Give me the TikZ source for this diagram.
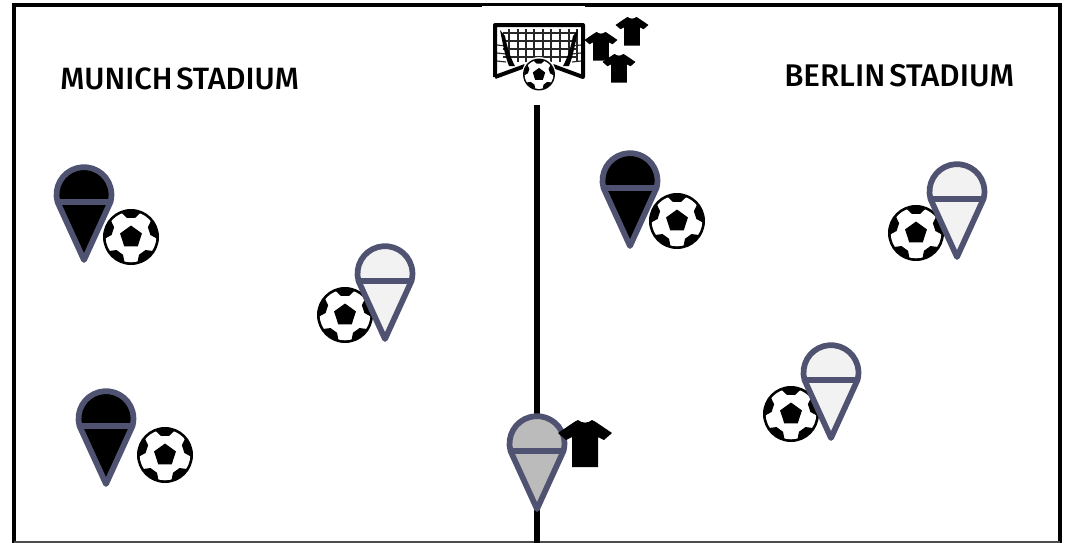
\documentclass[tikz,border=0pt]{standalone}
\usepackage{fontspec}
\setmainfont[WordSpace=0.5]{Fira Sans Medium}
\definecolor{pinline}{HTML}{4F5270}
\definecolor{pinlight}{HTML}{F2F2F2}
\definecolor{pingray}{HTML}{BBBBBB}
\newcommand\pinat[3]{% x, top y of outline, fill
  \begin{scope}[shift={(#1,#2)}]
    \draw[pinstroke,fill=#3] (-26.5,37) arc[start angle=164.5,end angle=375.5,radius=27.5] -- (0,95) -- cycle;
    \draw[pinstroke] (-26.5,37) -- (26.5,37);
  \end{scope}}
\newcommand\ballat[3]{% x, y, scale (1 = radius 28)
  \begin{scope}[shift={(#1,#2)},scale=#3]
    \fill[black] (0,0) circle[radius=28];
    \fill[white] (0,0) circle[radius=25.3];
    \begin{scope}
      \clip (0,0) circle[radius=26];
      \foreach \a in {-90,-18,54,126,198}{
        \fill[black] (\a-12:19.5) -- (\a+12:19.5) -- (\a+25:30) -- (\a-25:30) -- cycle;
      }
    \end{scope}
    \fill[black] (-90:11.5) -- (-18:11.5) -- (54:11.5) -- (126:11.5) -- (198:11.5) -- cycle;
  \end{scope}}
\newcommand\shirtat[3]{% centre x, top y, scale
  \begin{scope}[shift={(#1,#2)},scale=#3]
    \fill[black] (-27,13) -- (-10,1.5) -- (-7,0) .. controls (-3,3.5) and (3,3.5) .. (7,0) -- (10,1.5) -- (27,13) -- (19,20) -- (13,17) -- (13,47) -- (-13,47) -- (-13,17) -- (-19,20) -- cycle;
  \end{scope}}
\tikzset{
  frameline/.style={line width=2.7pt,black},
  pinstroke/.style={line width=4.3pt,pinline,line join=round},
  goalthin/.style={line width=0.85pt,black!85},
  stadiumlabel/.style={anchor=west,inner sep=0pt,font=\fontsize{23.1pt}{26pt}\selectfont}
}
\begin{document}
\begin{tikzpicture}[x=0.75pt,y=-0.75pt]
\useasboundingbox (0,0) rectangle (1065,543);
% frame
\draw[frameline] (14,543) -- (14,5) -- (1060,5) -- (1060,543);
\draw[line width=0.9pt,black!70] (14,542) -- (1060,542);
\fill[white] (482,6.2) rectangle (585,20);
% centre line
\draw[line width=4.6pt,black] (537,105) -- (537,543);
% labels
\node[stadiumlabel] (munich) at (60,79) {MUNICH STADIUM};
\node[stadiumlabel,font=\fontsize{23.5pt}{26pt}\selectfont] (berlin) at (784,76) {BERLIN STADIUM};
% goal
\foreach \x in {509,518,526,534,543,551,560,569,577}{\draw[goalthin] (\x,29) -- (\x,62);}
\foreach \y in {33,41,49,57}{\draw[goalthin] (503,\y) -- (576,\y);}
\foreach \y in {45,53,61}{\draw[goalthin] (497,\y) -- (506,\y+1); \draw[goalthin] (581,\y) -- (572,\y+1);}
\draw[line width=3pt,black,line join=round] (495,77) -- (495,25) -- (583,25) -- (583,77) -- (553,66);
\draw[line width=3pt,black] (495,77) -- (525,66);
\fill[black] (500,30) .. controls (503,45) and (505,56) .. (509,66) -- (515,66) .. controls (510,57) and (507,46) .. (505,36) -- cycle;
\fill[black] (578,30) .. controls (575,45) and (573,56) .. (569,66) -- (563,66) .. controls (568,57) and (571,46) .. (573,36) -- cycle;
\fill[white] (539,74) circle[radius=17];
\ballat{539}{74.5}{0.57}
% small shirts
\shirtat{601}{32}{0.61}
\shirtat{632}{17}{0.61}
\shirtat{619}{54}{0.61}
% balls
\ballat{131}{237}{1}
\ballat{345}{315}{1}
\ballat{165}{455}{1}
\ballat{677}{221}{1}
\ballat{916}{233}{1}
\ballat{791}{414}{1}
% pins
\pinat{84}{165}{black}
\pinat{385}{244}{pinlight}
\pinat{106}{389}{black}
\pinat{630}{151}{black}
\pinat{957}{162}{pinlight}
\pinat{831}{343}{pinlight}
\pinat{537}{414}{pingray}
% shirt by centre pin
\shirtat{585}{420}{1}
\end{tikzpicture}
\end{document}
